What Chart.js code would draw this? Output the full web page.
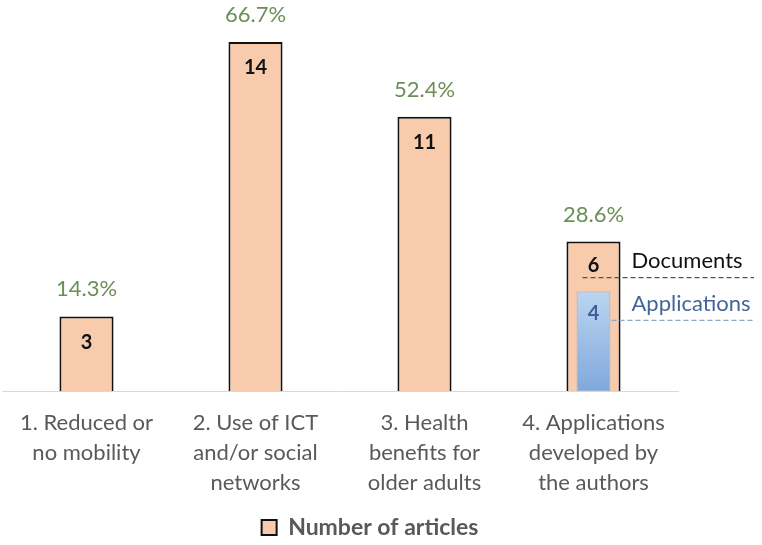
<!DOCTYPE html>
<html><head><meta charset="utf-8">
<script src="https://cdn.jsdelivr.net/npm/chart.js@4/dist/chart.umd.min.js"></script>
<style>html,body{margin:0;padding:0;background:#fff}#wrap{width:762px;height:545px}</style>
</head><body><div id="wrap"><canvas id="c" width="762" height="545"></canvas></div>
<script>
const categories = [["1. Reduced or","no mobility"],["2. Use of ICT","and/or social","networks"],["3. Health","benefits for","older adults"],["4. Applications","developed by","the authors"]];
const articles = [3, 14, 11, 6];
const applications = [null, null, null, 4];
const percents = ["14.3%", "66.7%", "52.4%", "28.6%"];
const seriesName = "Number of articles";
const docLabel = "Documents";
const appLabel = "Applications";

const FONT = "Lato, 'Noto Sans', sans-serif";

const legendShift = {
  id: 'legendShift',
  afterUpdate(chart) {
    if (chart.legend) { chart.legend.left += 30; chart.legend.right += 30; }
  }
};

const annot = {
  id: 'annot',
  afterDatasetsDraw(chart) {
    const ctx = chart.ctx;
    const mA = chart.getDatasetMeta(1); // articles
    const mP = chart.getDatasetMeta(0); // applications
    ctx.save();
    ctx.textAlign = 'center';
    ctx.textBaseline = 'middle';
    mA.data.forEach((bar, i) => {
      ctx.fillStyle = '#6b8f56';
      ctx.font = '22px ' + FONT;
      ctx.fillText(percents[i], bar.x, bar.y - 27);
      if (i !== 3) {
        ctx.fillStyle = '#111';
        ctx.font = 'bold 20px ' + FONT;
        ctx.fillText(String(articles[i]), bar.x, bar.y + 26);
      }
    });
    const b = mA.data[3];
    const a = mP.data[3];
    const right = chart.width - 8;
    ctx.fillStyle = '#111';
    ctx.font = 'bold 20px ' + FONT;
    ctx.fillText(String(articles[3]), b.x, b.y + 24);
    ctx.fillStyle = '#3f5f9a';
    ctx.fillText(String(applications[3]), a.x, a.y + 22);
    ctx.setLineDash([5, 3]);
    ctx.lineWidth = 1.2;
    ctx.strokeStyle = '#555';
    const yd = b.y + 36;
    ctx.beginPath(); ctx.moveTo(b.x - 11, yd); ctx.lineTo(right, yd); ctx.stroke();
    ctx.strokeStyle = '#8fa6c4';
    const ya = a.y + 29;
    ctx.beginPath(); ctx.moveTo(a.x + 18, ya); ctx.lineTo(right, ya); ctx.stroke();
    ctx.setLineDash([]);
    ctx.textAlign = 'left';
    ctx.font = '22px ' + FONT;
    ctx.fillStyle = '#111';
    ctx.fillText(docLabel, b.x + 38, yd - 17);
    ctx.fillStyle = '#44659a';
    ctx.fillText(appLabel, b.x + 38, ya - 17);
    ctx.restore();
  }
};

new Chart(document.getElementById('c'), {
  type: 'bar',
  data: {
    labels: categories,
    datasets: [
      {
        label: appLabel,
        data: applications,
        grouped: false,
        order: 0,
        barPercentage: 0.2,
        categoryPercentage: 1,
        backgroundColor: (ctx) => {
          const ch = ctx.chart; const ca = ch.chartArea;
          if (!ca) return '#9dc0e6';
          const g = ch.ctx.createLinearGradient(0, ch.scales.y.getPixelForValue(4), 0, ca.bottom);
          g.addColorStop(0, '#bcd5f0');
          g.addColorStop(1, '#7fa9dc');
          return g;
        },
        borderColor: '#8fb0d3',
        borderWidth: 1,
        borderSkipped: false
      },
      {
        label: seriesName,
        data: articles,
        grouped: false,
        order: 1,
        barPercentage: 0.32,
        categoryPercentage: 1,
        backgroundColor: '#f8cbad',
        borderColor: '#111',
        borderWidth: 2,
        borderSkipped: 'bottom'
      }
    ]
  },
  options: {
    responsive: false,
    animation: false,
    devicePixelRatio: 1,
    layout: { padding: { left: 2, right: 84, top: 42, bottom: -4 } },
    plugins: {
      legend: {
        position: 'bottom',
        labels: {
          filter: (item) => item.text === seriesName,
          color: '#595959',
          font: { family: FONT, size: 23, weight: 'bold' },
          boxWidth: 15, boxHeight: 15,
          padding: 1
        }
      },
      tooltip: { enabled: false }
    },
    scales: {
      x: {
        grid: { display: false, drawTicks: false },
        border: { display: true, color: '#d9d9d9', width: 1 },
        ticks: {
          color: '#595959',
          font: { family: FONT, size: 22, lineHeight: 1.36 },
          padding: 17,
          maxRotation: 0,
          autoSkip: false
        }
      },
      y: {
        display: false,
        min: 0,
        max: 14,
        grid: { display: false }
      }
    }
  },
  plugins: [annot, legendShift]
});
</script>
</body></html>
